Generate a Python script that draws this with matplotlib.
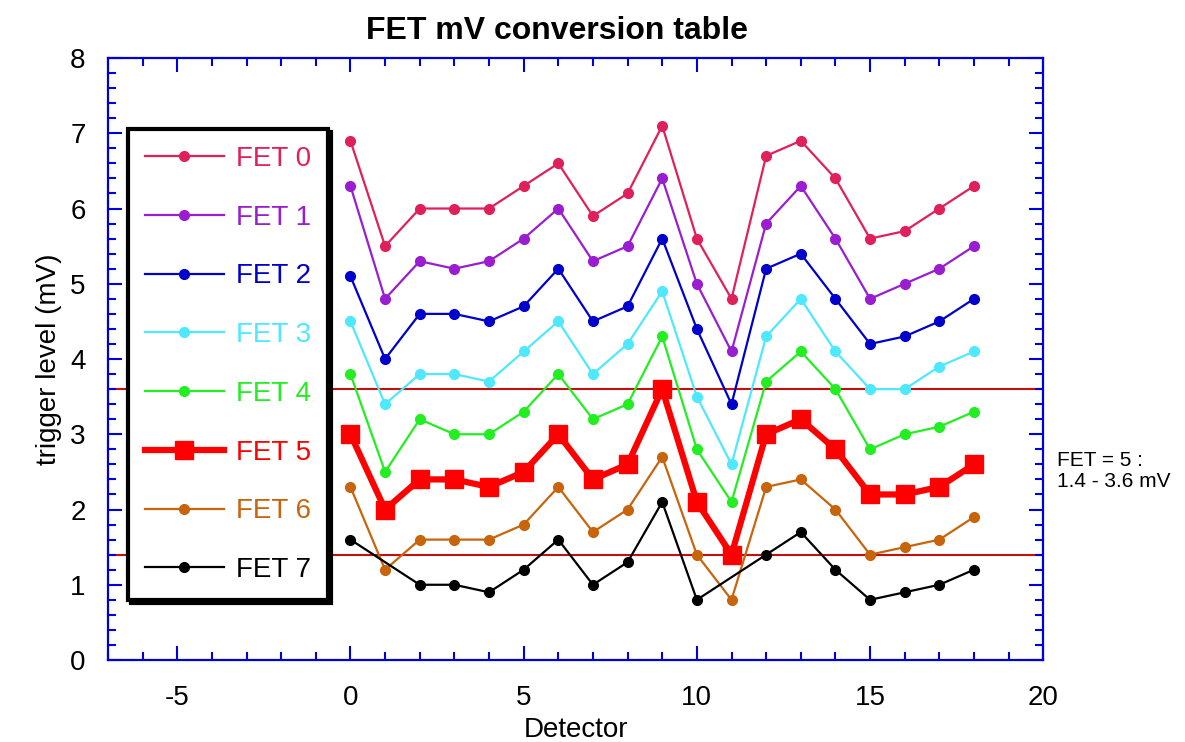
import matplotlib
matplotlib.use("Agg")
import matplotlib.pyplot as plt
from matplotlib.ticker import MultipleLocator

plt.rcParams['font.family'] = ['Liberation Sans', 'DejaVu Sans']
plt.rcParams['axes.unicode_minus'] = False

# Detektor-Nummern
detektor = list(range(19))

fet0 = [6.9, 5.5, 6.0, 6.0, 6.0, 6.3, 6.6, 5.9, 6.2, 7.1, 5.6, 4.8, 6.7, 6.9, 6.4, 5.6, 5.7, 6.0, 6.3]
fet1 = [6.3, 4.8, 5.3, 5.2, 5.3, 5.6, 6.0, 5.3, 5.5, 6.4, 5.0, 4.1, 5.8, 6.3, 5.6, 4.8, 5.0, 5.2, 5.5]
fet2 = [5.1, 4.0, 4.6, 4.6, 4.5, 4.7, 5.2, 4.5, 4.7, 5.6, 4.4, 3.4, 5.2, 5.4, 4.8, 4.2, 4.3, 4.5, 4.8]
fet3 = [4.5, 3.4, 3.8, 3.8, 3.7, 4.1, 4.5, 3.8, 4.2, 4.9, 3.5, 2.6, 4.3, 4.8, 4.1, 3.6, 3.6, 3.9, 4.1]
fet4 = [3.8, 2.5, 3.2, 3.0, 3.0, 3.3, 3.8, 3.2, 3.4, 4.3, 2.8, 2.1, 3.7, 4.1, 3.6, 2.8, 3.0, 3.1, 3.3]
fet5 = [3.0, 2.0, 2.4, 2.4, 2.3, 2.5, 3.0, 2.4, 2.6, 3.6, 2.1, 1.4, 3.0, 3.2, 2.8, 2.2, 2.2, 2.3, 2.6]
fet6 = [2.3, 1.2, 1.6, 1.6, 1.6, 1.8, 2.3, 1.7, 2.0, 2.7, 1.4, 0.8, 2.3, 2.4, 2.0, 1.4, 1.5, 1.6, 1.9]
# FET 7: Detektor 1 und 11 fehlen
detektor7 = [0, 2, 3, 4, 5, 6, 7, 8, 9, 10, 12, 13, 14, 15, 16, 17, 18]
fet7 = [1.6, 1.0, 1.0, 0.9, 1.2, 1.6, 1.0, 1.3, 2.1, 0.8, 1.4, 1.7, 1.2, 0.8, 0.9, 1.0, 1.2]

grenzen = [1.4, 3.6]

serien = [
    ("FET 0", detektor, fet0, "#e0205a"),
    ("FET 1", detektor, fet1, "#9a1ed0"),
    ("FET 2", detektor, fet2, "#0000cc"),
    ("FET 3", detektor, fet3, "#4ee8ff"),
    ("FET 4", detektor, fet4, "#22ee22"),
    ("FET 5", detektor, fet5, "#ff0000"),
    ("FET 6", detektor, fet6, "#c8640c"),
    ("FET 7", detektor7, fet7, "#000000"),
]

fig = plt.figure(figsize=(11.85, 7.42), dpi=100)
ax = fig.add_axes([0.0911, 0.1105, 0.7893, 0.8113])

for g in grenzen:
    ax.axhline(g, color="#c01010", lw=1.5, zorder=1)

for name, xs, ys, farbe in serien:
    if name == "FET 5":
        ax.plot(xs, ys, color=farbe, lw=4.5, marker="s", ms=13, label=name, zorder=3)
    else:
        ax.plot(xs, ys, color=farbe, lw=1.6, marker="o", ms=7, label=name, zorder=3)

ax.set_xlim(-7, 20)
ax.set_ylim(0, 8)
ax.xaxis.set_major_locator(MultipleLocator(5))
ax.xaxis.set_minor_locator(MultipleLocator(1))
ax.yaxis.set_major_locator(MultipleLocator(1))
ax.yaxis.set_minor_locator(MultipleLocator(0.2))

blau = "#0000dd"
for s in ax.spines.values():
    s.set_color(blau)
    s.set_linewidth(1.6)
ax.tick_params(which="both", direction="in", top=True, right=True, color=blau, width=1.5)
ax.tick_params(which="major", length=10, labelsize=20)
ax.tick_params(which="minor", length=6)
ax.tick_params(axis="x", which="major", pad=18)
ax.tick_params(axis="y", which="major", pad=16)

ax.set_xlabel("Detector", fontsize=20, labelpad=4)
ax.set_ylabel("trigger level (mV)", fontsize=20, labelpad=6)
ax.set_title("FET mV conversion table", fontsize=23, fontweight="bold", pad=14, x=0.48)

leg = ax.legend(loc="upper left", bbox_to_anchor=(0.0214, 0.882), borderaxespad=0,
                fontsize=20, labelcolor="linecolor", numpoints=1, handlelength=2.85,
                handletextpad=0.45, borderpad=0.6, labelspacing=1.18, fancybox=False,
                shadow={"color": "black", "alpha": 1})
leg.get_frame().set_edgecolor("black")
leg.get_frame().set_linewidth(3)
leg.set_zorder(5)

fig.text(0.892, 0.365, "FET = 5 :\n1.4 - 3.6 mV", fontsize=15, ha="left", va="center",
         linespacing=1.15)

fig.savefig("out.png", dpi=100)
